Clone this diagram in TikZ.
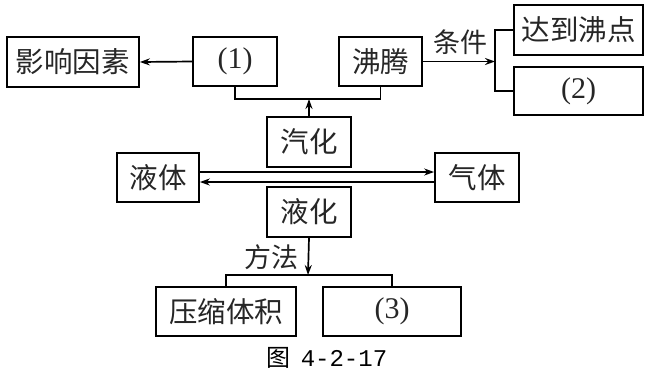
\documentclass[tikz,border=0pt]{standalone}
\usepackage{fontspec}
\setmainfont{Liberation Serif}
\newfontfamily\cjk{Noto Sans CJK SC}
\newfontfamily\capmono{Liberation Mono}
\usetikzlibrary{arrows.meta}
\begin{document}
\begin{tikzpicture}[x=1pt,y=-1pt,
  box/.style={draw,line width=1.7pt,inner sep=0pt,anchor=center,font=\cjk\fontsize{28.5}{28.5}\selectfont,text=black!85},
  lbl/.style={inner sep=0pt,font=\cjk\fontsize{27}{27}\selectfont,text=black!85},
  conn/.style={line width=1.7pt},
  arr/.style={line width=1.7pt,-{Stealth[length=10pt,width=7pt]}}]
\useasboundingbox (0,0) rectangle (649,373);
\node[box,minimum width=132pt,minimum height=50pt] (inf) at (73,62) {影响因素};
\node[box,minimum width=84pt,minimum height=49pt,font=\fontsize{30}{30}\selectfont] (n1) at (235,61.5) {(1)};
\node[box,minimum width=83pt,minimum height=49pt] (fei) at (380.5,61.5) {沸腾};
\node[box,minimum width=129pt,minimum height=50pt] (cond) at (578.5,30) {达到沸点};
\node[box,minimum width=129pt,minimum height=48pt,font=\fontsize{30}{30}\selectfont] (n2) at (578.5,91) {(2)};
\node[box,minimum width=84pt,minimum height=50pt] (qh) at (309,142) {汽化};
\node[box,minimum width=82pt,minimum height=49pt] (yt) at (158,177.5) {液体};
\node[box,minimum width=84pt,minimum height=49pt] (qt) at (477,177.5) {气体};
\node[box,minimum width=84pt,minimum height=50pt] (yh) at (309,212) {液化};
\node[box,minimum width=140pt,minimum height=49pt] (ys) at (226,311.5) {压缩体积};
\node[box,minimum width=138pt,minimum height=49pt,font=\fontsize{30}{30}\selectfont] (n3) at (392,311.5) {(3)};
\node[lbl] (tj) at (460,42) {条件};
\node[lbl] (ff) at (271,257) {方法};
\node[inner sep=0pt,font=\capmono\fontsize{24}{24}\selectfont,text=black] (cap) at (327,358) {{\cjk 图}\hspace{10pt}4-2-17};
\coordinate (j1) at (309,99);
\coordinate (b1) at (495,61.5);
\coordinate (j2) at (308,275);
\draw[arr] (n1.west) -- (inf.east);
\draw[conn] (n1.south) |- (j1) -| (fei.south);
\draw[arr] (qh.north) -- (j1);
\draw[arr] (fei.east) -- (b1);
\draw[conn] (cond.west) -- ++(-18,0) |- (n2.west);
\draw[arr] ([yshift=5.5pt]yt.east) -- ([yshift=5.5pt]qt.west);
\draw[arr] ([yshift=-4.5pt]qt.west) -- ([yshift=-4.5pt]yt.east);
\draw[arr] (yh.south) -- (j2);
\draw[conn] (ys.north) |- (j2) -| (n3.north);
\end{tikzpicture}
\end{document}
